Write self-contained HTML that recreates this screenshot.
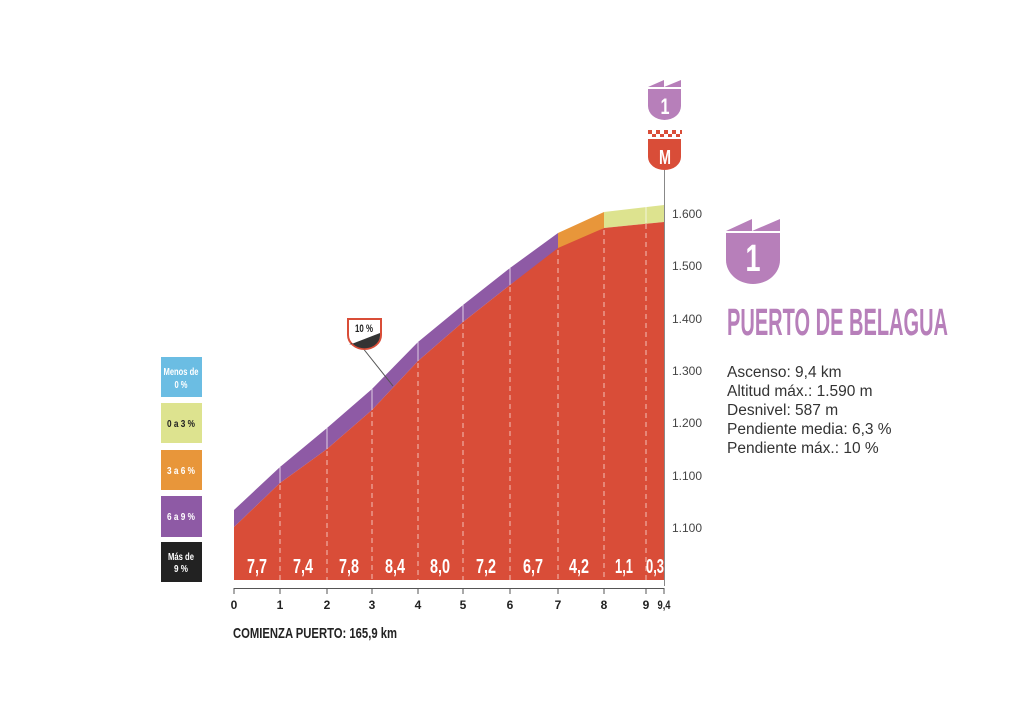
<!DOCTYPE html>
<html><head><meta charset="utf-8"><style>
html,body{margin:0;padding:0;background:#fff}
svg{display:block}
.c{font-family:"Liberation Sans Narrow","Liberation Sans",sans-serif;font-weight:bold}
.s{font-family:"Liberation Sans",sans-serif}
</style></head><body>
<svg width="1024" height="724" viewBox="0 0 1024 724" xmlns="http://www.w3.org/2000/svg">
<polygon points="234,510 280,467 327,428 372,389 418,342 463,305 510,268 558,233 558,250 510,285 463,322 418,361 372,410 327,449 280,483 234,527" fill="#8e5aa5"/>
<polygon points="558,233 604,212 604,228 558,250" fill="#e8963a"/>
<polygon points="604,212 664,205 664,222 604,228" fill="#dde38f"/>
<polygon points="234,527 280,483 327,449 372,410 418,361 463,322 510,285 558,248 604,228 664,222 664,580 234,580" fill="#d94d38"/>
<g stroke="#fff" stroke-width="1" opacity="0.7">
<line x1="280" y1="467" x2="280" y2="483"/><line x1="327" y1="428" x2="327" y2="449"/><line x1="372" y1="389" x2="372" y2="410"/><line x1="418" y1="342" x2="418" y2="361"/><line x1="463" y1="305" x2="463" y2="322"/><line x1="510" y1="268" x2="510" y2="285"/><line x1="646" y1="206" x2="646" y2="223"/>
</g>
<g stroke="#f4c0b6" stroke-width="1" stroke-dasharray="5,4">
<line x1="280" y1="485" x2="280" y2="580"/><line x1="327" y1="451" x2="327" y2="580"/><line x1="372" y1="412" x2="372" y2="580"/><line x1="418" y1="363" x2="418" y2="580"/><line x1="463" y1="324" x2="463" y2="580"/><line x1="510" y1="287" x2="510" y2="580"/><line x1="558" y1="250" x2="558" y2="580"/><line x1="604" y1="230" x2="604" y2="580"/><line x1="646" y1="224" x2="646" y2="580"/>
</g>
<g class="c" fill="#fff" font-size="20" text-anchor="middle" lengthAdjust="spacingAndGlyphs">
<text x="257" y="573" textLength="20" lengthAdjust="spacingAndGlyphs">7,7</text><text x="303" y="573" textLength="20" lengthAdjust="spacingAndGlyphs">7,4</text><text x="349" y="573" textLength="20" lengthAdjust="spacingAndGlyphs">7,8</text><text x="395" y="573" textLength="20" lengthAdjust="spacingAndGlyphs">8,4</text><text x="440" y="573" textLength="20" lengthAdjust="spacingAndGlyphs">8,0</text><text x="486" y="573" textLength="20" lengthAdjust="spacingAndGlyphs">7,2</text><text x="533" y="573" textLength="20" lengthAdjust="spacingAndGlyphs">6,7</text><text x="579" y="573" textLength="20" lengthAdjust="spacingAndGlyphs">4,2</text><text x="624" y="573" textLength="18" lengthAdjust="spacingAndGlyphs">1,1</text><text x="655" y="573" textLength="18" lengthAdjust="spacingAndGlyphs">0,3</text>
</g>
<line x1="664.5" y1="170" x2="664.5" y2="586" stroke="#888" stroke-width="1"/>
<g class="s" font-size="12" fill="#444">
<text x="672" y="218">1.600</text><text x="672" y="270">1.500</text><text x="672" y="323">1.400</text><text x="672" y="375">1.300</text><text x="672" y="427">1.200</text><text x="672" y="480">1.100</text><text x="672" y="532">1.100</text>
</g>
<line x1="234" y1="588.5" x2="664" y2="588.5" stroke="#555" stroke-width="1"/>
<g stroke="#555"><line x1="234" y1="588" x2="234" y2="594"/><line x1="280" y1="588" x2="280" y2="594"/><line x1="327" y1="588" x2="327" y2="594"/><line x1="372" y1="588" x2="372" y2="594"/><line x1="418" y1="588" x2="418" y2="594"/><line x1="463" y1="588" x2="463" y2="594"/><line x1="510" y1="588" x2="510" y2="594"/><line x1="558" y1="588" x2="558" y2="594"/><line x1="604" y1="588" x2="604" y2="594"/><line x1="646" y1="588" x2="646" y2="594"/><line x1="664" y1="588" x2="664" y2="594"/></g>
<g class="c" font-size="12" fill="#222" text-anchor="middle">
<text x="234" y="609">0</text><text x="280" y="609">1</text><text x="327" y="609">2</text><text x="372" y="609">3</text><text x="418" y="609">4</text><text x="463" y="609">5</text><text x="510" y="609">6</text><text x="558" y="609">7</text><text x="604" y="609">8</text><text x="646" y="609">9</text><text x="664" y="609" textLength="13" lengthAdjust="spacingAndGlyphs">9,4</text>
</g>
<text class="c" x="233" y="638" font-size="15" fill="#222" textLength="164" lengthAdjust="spacingAndGlyphs">COMIENZA PUERTO: 165,9 km</text>
<rect x="161" y="357" width="41" height="40" fill="#6bbde3"/>
<rect x="161" y="403" width="41" height="40" fill="#dde38f"/>
<rect x="161" y="450" width="41" height="40" fill="#e8963a"/>
<rect x="161" y="496" width="41" height="41" fill="#8e5aa5"/>
<rect x="161" y="542" width="41" height="40" fill="#222"/>
<g class="c" font-size="10" text-anchor="middle">
<text x="181" y="375" fill="#fff" textLength="35" lengthAdjust="spacingAndGlyphs">Menos de</text><text x="181" y="388" fill="#fff" textLength="13" lengthAdjust="spacingAndGlyphs">0 %</text>
<text x="181" y="427" fill="#222" textLength="28" lengthAdjust="spacingAndGlyphs">0 a 3 %</text>
<text x="181" y="474" fill="#fff" textLength="28" lengthAdjust="spacingAndGlyphs">3 a 6 %</text>
<text x="181" y="520" fill="#fff" textLength="28" lengthAdjust="spacingAndGlyphs">6 a 9 %</text>
<text x="181" y="560" fill="#fff" textLength="26" lengthAdjust="spacingAndGlyphs">Más de</text><text x="181" y="572" fill="#fff" textLength="14" lengthAdjust="spacingAndGlyphs">9 %</text>
</g>
<line x1="362" y1="347" x2="393" y2="386" stroke="#555" stroke-width="1"/>
<path d="M348,319 H381 V335 A16.5,14 0 0 1 348,335 Z" fill="#fff" stroke="#d94d38" stroke-width="2"/>
<path d="M349,345 L380,333 V336 A15.5,13 0 0 1 352,343 Z" fill="#333"/>
<text class="c" x="364" y="332" font-size="11" fill="#222" text-anchor="middle" textLength="18" lengthAdjust="spacingAndGlyphs">10 %</text>
<path d="M648,87 L664,80 V87 L681,80 V87 Z" fill="#b77fba"/>
<path d="M648,89 H681 V106 A16.5,14 0 0 1 648,106 Z" fill="#b77fba"/>
<text class="c" x="665" y="114" font-size="22" fill="#fff" text-anchor="middle" textLength="9" lengthAdjust="spacingAndGlyphs">1</text>
<g fill="#d94d38">
<rect x="648" y="130" width="4" height="4"/><rect x="656" y="130" width="4" height="4"/><rect x="664" y="130" width="4" height="4"/><rect x="672" y="130" width="4" height="4"/><rect x="680" y="130" width="2" height="4"/>
<rect x="652" y="134" width="4" height="3"/><rect x="660" y="134" width="4" height="3"/><rect x="668" y="134" width="4" height="3"/><rect x="676" y="134" width="4" height="3"/>
</g>
<path d="M648,139 H681 V157 A16.5,13 0 0 1 648,157 Z" fill="#d94d38"/>
<text class="c" x="665" y="164" font-size="20" fill="#fff" text-anchor="middle" textLength="12" lengthAdjust="spacingAndGlyphs">M</text>
<path d="M726,231 L752,219 V231 L780,219 V231 Z" fill="#b77fba"/>
<path d="M726,233 H780 V260 A27,24 0 0 1 726,260 Z" fill="#b77fba"/>
<text class="c" x="753" y="271" font-size="38" fill="#fff" text-anchor="middle" textLength="15" lengthAdjust="spacingAndGlyphs">1</text>
<text class="c" x="727" y="335" font-size="38" fill="#b77fba" textLength="221" lengthAdjust="spacingAndGlyphs">PUERTO DE BELAGUA</text>
<g class="s" font-size="15.5" fill="#333">
<text x="727" y="377">Ascenso: 9,4 km</text>
<text x="727" y="396">Altitud máx.: 1.590 m</text>
<text x="727" y="415">Desnivel: 587 m</text>
<text x="727" y="434">Pendiente media: 6,3 %</text>
<text x="727" y="453">Pendiente máx.: 10 %</text>
</g>
</svg>
</body></html>
